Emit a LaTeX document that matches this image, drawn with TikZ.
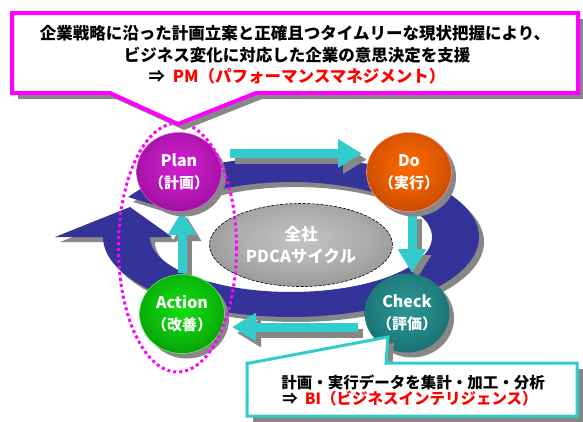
\documentclass[tikz,border=0pt]{standalone}
\usepackage{fontspec}
\setmainfont{Noto Sans CJK JP}
\usetikzlibrary{shapes.geometric,arrows.meta}
\definecolor{mag}{HTML}{FF00FF}
\definecolor{cyn}{HTML}{33CCCC}
\definecolor{navy}{HTML}{333399}
\definecolor{shd}{HTML}{878787}
\definecolor{redtxt}{HTML}{FF0000}
\definecolor{planin}{HTML}{D21FD2}
\definecolor{planout}{HTML}{660066}
\definecolor{planbd}{HTML}{E060E0}
\definecolor{doin}{HTML}{FF6A00}
\definecolor{doout}{HTML}{8A2A00}
\definecolor{dobd}{HTML}{FF9999}
\definecolor{chkin}{HTML}{2A9696}
\definecolor{chkout}{HTML}{0A4848}
\definecolor{actin}{HTML}{10E010}
\definecolor{actout}{HTML}{005A00}
\definecolor{actbd}{HTML}{66FF66}
\definecolor{corein}{HTML}{C4C4C4}
\definecolor{coreout}{HTML}{6A6A6A}
\colorlet{sphin}{white}
\colorlet{sphout}{black}
\pgfdeclareradialshading[sphin,sphout]{sphere}{\pgfpoint{0bp}{4bp}}{color(0bp)=(sphin); color(20bp)=(sphin!70!sphout); color(50bp)=(sphout); color(80bp)=(sphout)}
\newcommand\mybandpath{plot[domain=150:-180,samples=120] ({291+188*cos(\x)},{237-80*sin(\x)}) -- (55,237) -- (130,207) -- (172,237) -- plot[domain=-180:150,samples=120] ({291+141*cos(\x)},{237-55*sin(\x)}) -- cycle}
\newcommand\mysubfont{\bfseries\fontsize{15}{15}\selectfont}
\begin{document}
\begin{tikzpicture}[x=1pt,y=-1pt,
  sphcol/.code 2 args={\colorlet{sphin}{#1}\colorlet{sphout}{#2}},
  ball/.style={ellipse, minimum width=84pt, minimum height=79pt, inner sep=0pt, align=center,
    text=white, font=\bfseries\fontsize{16}{22}\selectfont, shading=sphere},
  cyanarr/.style={line width=9pt, draw=cyn, -{Triangle[width=27pt,length=24pt]}},
  shadowarr/.style={line width=9pt, draw=shd, -{Triangle[width=27pt,length=24pt]}},
  ctext/.style={font=\bfseries\fontsize{16.5}{20}\selectfont, inner sep=0pt},
  btext/.style={font=\bfseries\fontsize{15.5}{18}\selectfont, inner sep=0pt},
]
\useasboundingbox (0,0) rectangle (583,421);
\fill[white] (0,0) rectangle (583,421);

% band (curved arrow)
\begin{scope}[shift={(5,5)}]
\fill[shd] \mybandpath;
\end{scope}
\fill[navy] \mybandpath;

% coordinates
\coordinate (pP) at (179,172);
\coordinate (pD) at (409,172);
\coordinate (pC) at (407,313);
\coordinate (pA) at (182,314);
\coordinate (pd1) at (230,153.5);
\coordinate (pd2) at (362,153.5);
\coordinate (dc1) at (412,213);
\coordinate (dc2) at (412,273);
\coordinate (ca1) at (358,327);
\coordinate (ca2) at (232,327);
\coordinate (ap1) at (182,273);
\coordinate (ap2) at (182,211);

% cyan arrows with shadows
\foreach \a/\b in {pd1/pd2,dc1/dc2,ca1/ca2,ap1/ap2}{
  \draw[shadowarr] ([shift={(5,6)}]\a) -- ([shift={(5,6)}]\b);
}
\draw[cyanarr] (pd1) -- (pd2);
\draw[cyanarr] (dc1) -- (dc2);
\draw[cyanarr] (ca1) -- (ca2);
\draw[cyanarr] (ap1) -- (ap2);

% central ellipse
\node[ellipse, minimum width=183pt, minimum height=83pt, inner sep=0pt, shading=sphere,
  sphcol={corein}{coreout}, draw=black, line width=0.6pt, dash pattern=on 3pt off 1.5pt,
  align=center, text=white, font=\bfseries\fontsize{16.5}{22}\selectfont] (core) at (301,245)
  {全社\\PDCAサイクル};

% circle shadows
\foreach \p in {pP,pD,pC,pA}{
  \fill[shd] ([shift={(5,5)}]\p) ellipse [x radius=42, y radius=39.5];
}
\node[ball, sphcol={planin}{planout}, draw=planbd, line width=0.5pt] (plan) at (pP) {Plan\\{\mysubfont（計画）}};
\node[ball, sphcol={doin}{doout}, draw=dobd, line width=0.5pt] (do) at (pD) {Do\\{\mysubfont（実行）}};
\node[ball, sphcol={chkin}{chkout}] (check) at (pC) {Check\\{\mysubfont（評価）}};
\node[ball, sphcol={actin}{actout}, draw=actbd, line width=0.5pt] (action) at (pA) {Action\\{\mysubfont（改善）}};

% dotted ellipse
\draw[mag, line width=3pt, dash pattern=on 3pt off 3pt] (177.5,247.5) ellipse [x radius=59, y radius=124.5];

% top callout
\fill[shd] (18,19) -- (584,19) -- (584,99) -- (262,99) -- (184,130) -- (116,99) -- (18,99) -- cycle;
\filldraw[fill=white, draw=mag, line width=4pt, line join=miter] (12,13) -- (578,13) -- (578,93) -- (256,93) -- (178,124) -- (110,93) -- (12,93) -- cycle;
\node[ctext] (t1) at (295,33) {企業戦略に沿った計画立案と正確且つタイムリーな現状把握により、};
\node[ctext] (t2) at (297,55) {ビジネス変化に対応した企業の意思決定を支援};
\node[ctext] (t3) at (297,76) {⇒\ \ \textcolor{redtxt}{PM（パフォーマンスマネジメント）}};

% bottom callout
\fill[shd] (253,369) -- (256,369) -- (394,343) -- (392,369) -- (583,369) -- (583,422) -- (253,422) -- cycle;
\filldraw[fill=white, draw=cyn, line width=3pt, line join=miter] (247,363) -- (250,363) -- (388,337) -- (386,363) -- (577,363) -- (577,416) -- (247,416) -- cycle;
\node[btext] (b1) at (413,382) {計画・実行データを集計・加工・分析};
\node[btext] (b2) at (410,399) {⇒\ \ \textcolor{redtxt}{BI（ビジネスインテリジェンス）}};
\end{tikzpicture}
\end{document}
